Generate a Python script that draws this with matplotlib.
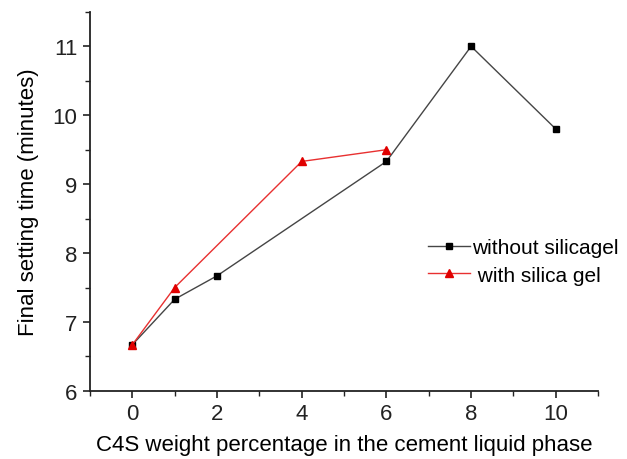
import matplotlib.pyplot as plt
from matplotlib.ticker import MultipleLocator

plt.rcParams['font.family'] = ['Liberation Sans', 'DejaVu Sans']

# C4S weight percentage
x_without = [0, 1, 2, 6, 8, 10]
y_without = [6.67, 7.33, 7.67, 9.33, 11.0, 9.8]
x_with = [0, 1, 4, 6]
y_with = [6.67, 7.5, 9.33, 9.5]

fig = plt.figure(figsize=(6.27, 4.6), dpi=100)
ax = fig.add_axes([0.1435, 0.148, 0.8105, 0.824])

ax.plot(x_without, y_without, color='#454545', lw=1.0, marker='s', ms=5,
        mfc='black', mec='black', label='without silicagel')
ax.plot(x_with, y_with, color='#e83030', lw=1.0, marker='^', ms=6,
        mfc='#e00000', mec='#e00000', label=' with silica gel')

ax.set_xlim(-1, 11)
ax.set_ylim(6, 11.5)
ax.xaxis.set_major_locator(MultipleLocator(2))
ax.xaxis.set_minor_locator(MultipleLocator(1))
ax.yaxis.set_major_locator(MultipleLocator(1))
ax.yaxis.set_minor_locator(MultipleLocator(0.5))

for side in ['top', 'right']:
    ax.spines[side].set_visible(False)
for side in ['left', 'bottom']:
    ax.spines[side].set_linewidth(1.3)
    ax.spines[side].set_color('#222222')

ax.tick_params(which='major', direction='out', length=5, width=1.2, labelsize=16,
               colors='#222222', pad=4)
ax.tick_params(which='minor', direction='out', length=3.5, width=1.0, colors='#222222')

ax.set_xlabel('C4S weight percentage in the cement liquid phase', fontsize=16, labelpad=7)
ax.set_ylabel('Final setting time (minutes)', fontsize=16, labelpad=10)

ax.legend(loc='upper left', bbox_to_anchor=(418 / 627, (460 - 229) / 460),
          bbox_transform=fig.transFigure, frameon=False, fontsize=15,
          handlelength=2.0, handletextpad=0.1, borderpad=0, labelspacing=0.4)

fig.savefig('out.png', dpi=100)
